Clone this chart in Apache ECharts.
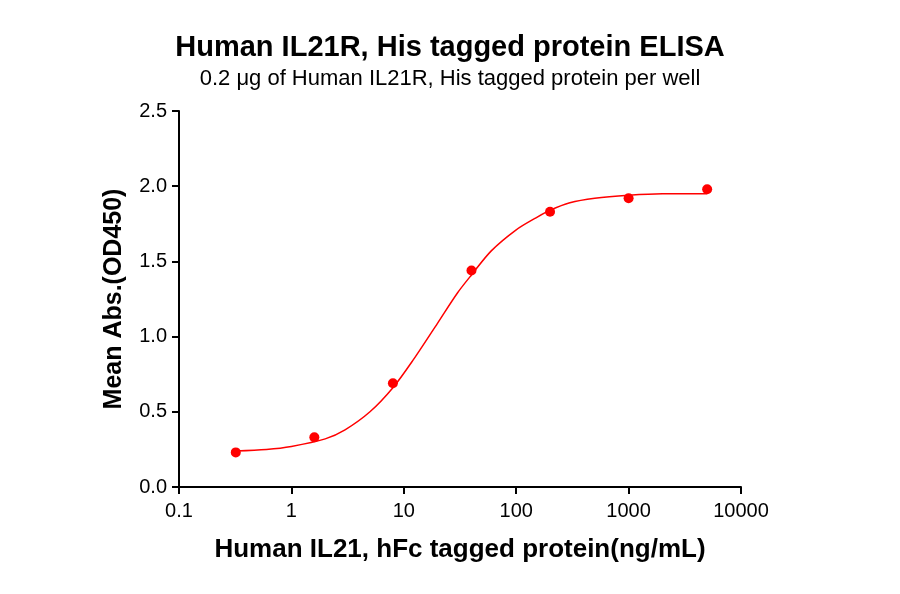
<!DOCTYPE html>
<html><head><meta charset="utf-8">
<script src="https://cdn.jsdelivr.net/npm/echarts@6/dist/echarts.min.js"></script>
<style>body{margin:0}#main{width:900px;height:594px;background:#fff}</style>
</head><body><div id="main"></div>
<script>
// measured points
const conc = [0.32, 1.6, 8, 40, 200, 1000, 5000];
const absVals = [0.23, 0.33, 0.69, 1.44, 1.83, 1.92, 1.98];
// fitted curve
const curveX = [0.32, 0.6, 1, 2, 3, 5, 8, 12, 20, 30, 40, 60, 100, 150, 200, 300, 500, 1000, 2000, 5000];
const curveY = [0.24, 0.25, 0.27, 0.32, 0.38, 0.50, 0.66, 0.84, 1.09, 1.29, 1.41, 1.57, 1.71, 1.79, 1.84, 1.89, 1.92, 1.94, 1.95, 1.95];

const chart = echarts.init(document.getElementById('main'));
const font = 'Arial, "Liberation Sans", sans-serif';
chart.setOption({
  animation: false,
  title: {
    text: 'Human IL21R, His tagged protein ELISA',
    subtext: '0.2 \u03bcg of Human IL21R, His tagged protein per well',
    left: 'center', top: 28, itemGap: 6,
    textStyle: {fontFamily: font, fontSize: 29, fontWeight: 'bold', color: '#000'},
    subtextStyle: {fontFamily: font, fontSize: 22, color: '#000'}
  },
  grid: {left: 179, right: 159, top: 111, bottom: 107},
  xAxis: {
    type: 'log', logBase: 10, min: 0.1, max: 10000,
    name: 'Human IL21, hFc tagged protein(ng/mL)', nameLocation: 'middle', nameGap: 50,
    nameTextStyle: {fontFamily: font, fontSize: 26, fontWeight: 'bold', color: '#000'},
    axisLine: {onZero: false, lineStyle: {color: '#000', width: 2}},
    axisTick: {length: 7, lineStyle: {width: 2}},
    axisLabel: {fontFamily: font, fontSize: 20, color: '#000', margin: 14,
      formatter: v => String(+v.toPrecision(3))},
    splitLine: {show: false}
  },
  yAxis: {
    type: 'value', min: 0, max: 2.5, interval: 0.5,
    name: 'Mean Abs.(OD450)', nameLocation: 'middle', nameGap: 52,
    nameTextStyle: {fontFamily: font, fontSize: 25, fontWeight: 'bold', color: '#000'},
    axisLine: {show: true, lineStyle: {color: '#000', width: 2}},
    axisTick: {show: true, length: 7, lineStyle: {width: 2}},
    axisLabel: {fontFamily: font, fontSize: 20, color: '#000', margin: 12, formatter: v => v.toFixed(1)},
    splitLine: {show: false}
  },
  series: [
    {type: 'line', data: curveX.map((x, i) => [x, curveY[i]]), smooth: 0.3, showSymbol: false,
     lineStyle: {color: '#ff0000', width: 1.5}},
    {type: 'scatter', data: conc.map((x, i) => [x, absVals[i]]), symbolSize: 10,
     itemStyle: {color: '#ff0000', opacity: 1}}
  ]
});
</script></body></html>
